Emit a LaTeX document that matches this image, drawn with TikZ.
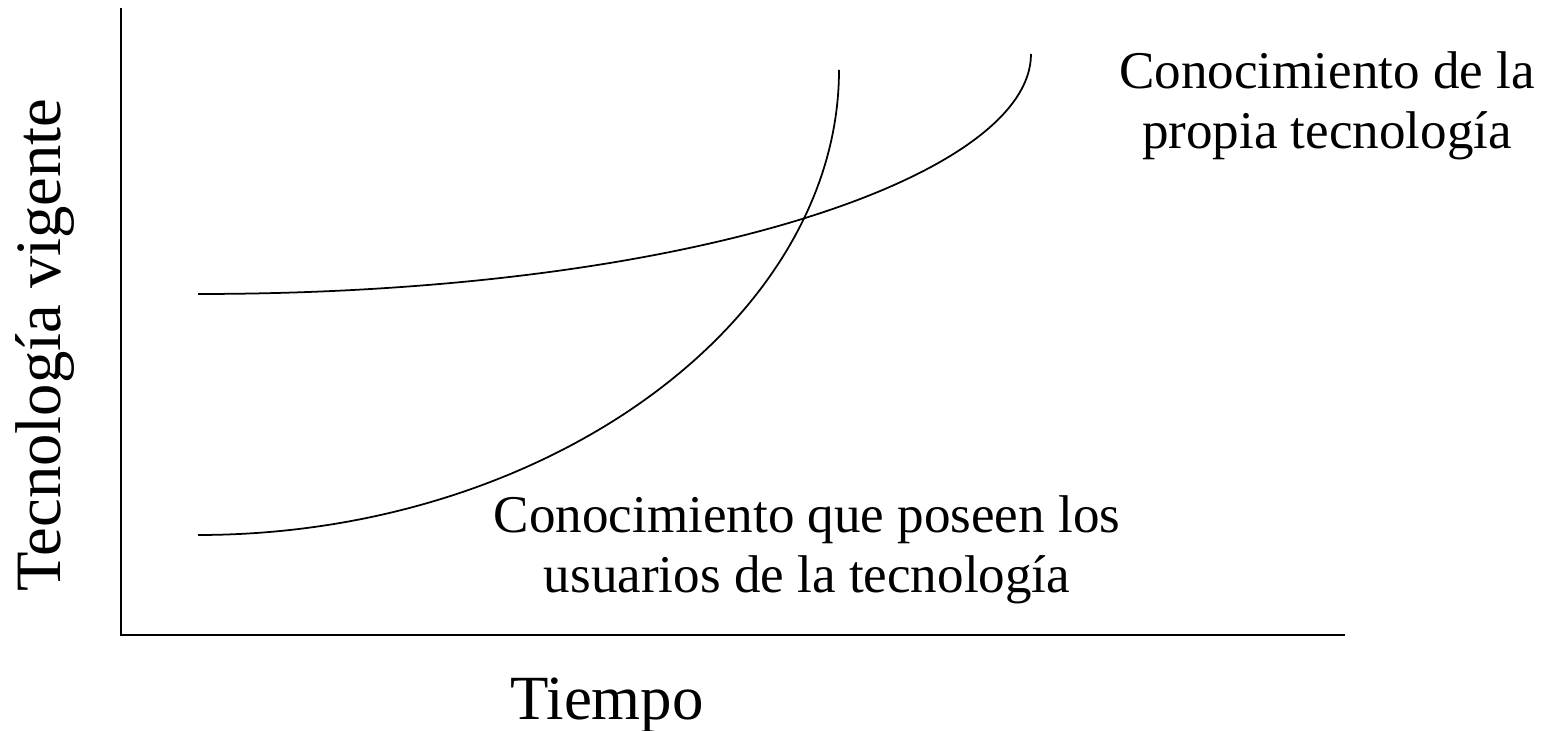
\documentclass[tikz,border=0pt]{standalone}
\usepackage{fontspec}
\setmainfont{Liberation Serif}
\usetikzlibrary{positioning}

\begin{document}
\begin{tikzpicture}[
    axis/.style={line width=0.6pt},
    curve/.style={line width=0.5pt},
    bigtext/.style={font=\fontsize{17.9}{20}\selectfont, inner sep=0pt},
    smalltext/.style={font=\fontsize{15.1}{17.1}\selectfont, align=center, inner sep=0pt}
]
\useasboundingbox (0,0) rectangle (15.56,7.31);

% Axes
\coordinate (O) at (1.21,0.96);
\coordinate (Ytop) at (1.21,7.23);
\coordinate (Xend) at (13.45,0.96);
\draw[axis] (Ytop) -- (O) -- (Xend);

% Curves
\draw[curve] (1.98,4.37) .. controls (6.98,4.37) and (10.31,5.57) .. (10.31,6.77);
\draw[curve] (1.98,1.96) .. controls (5.48,1.96) and (8.39,4.11) .. (8.39,6.61);

% Labels
\node (Tiempo) [bigtext, anchor=base] at (6.07,0.11) {Tiempo};
\node (Vigente) [bigtext, font=\fontsize{18.4}{20}\selectfont, anchor=base, rotate=90] at (0.61,3.86) {Tecnología vigente};
\node (Propia) [smalltext] at (13.27,6.25) {Conocimiento de la\\ propia tecnología};
\node (Usuarios) [smalltext] at (8.07,1.81) {Conocimiento que poseen los\\ usuarios de la tecnología};

\end{tikzpicture}
\end{document}
